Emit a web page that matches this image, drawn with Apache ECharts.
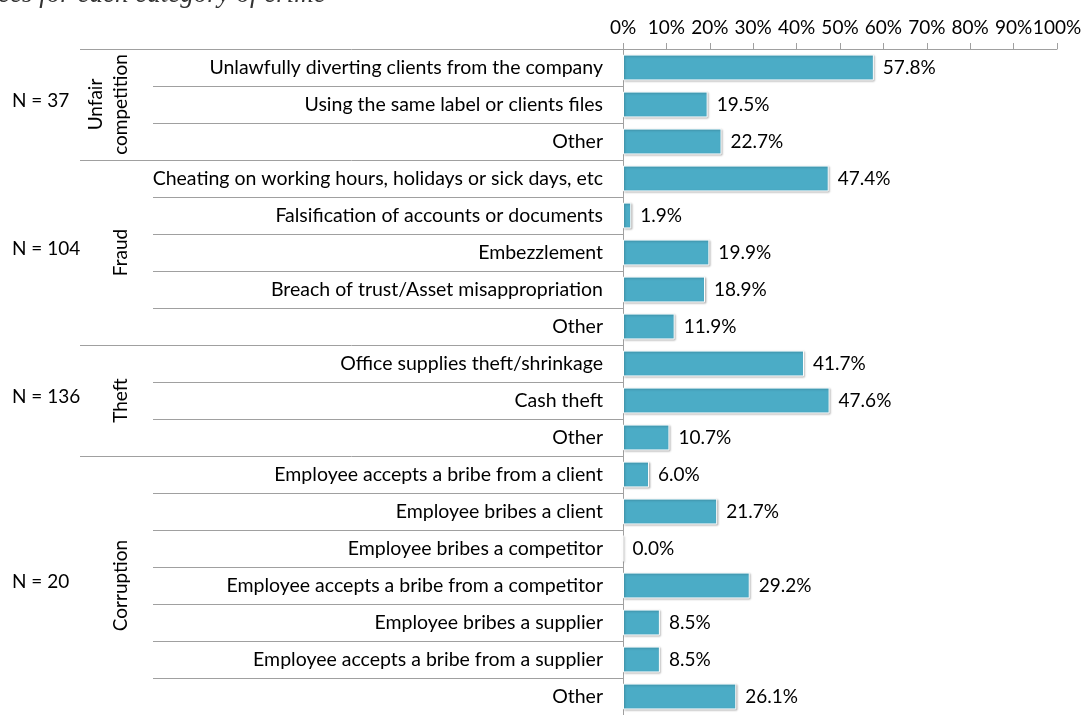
<!DOCTYPE html>
<html>
<head>
<meta charset="utf-8">
<script src="https://cdn.jsdelivr.net/npm/echarts@6/dist/echarts.min.js"></script>
<style>
  html, body { margin: 0; padding: 0; background: #fff; }
  #chart { width: 1088px; height: 715px; }
</style>
</head>
<body>
<div id="chart"></div>
<script>
// Sub-categories of crime, top to bottom
const categories = [
  'Unlawfully diverting clients from the company',
  'Using the same label or clients files',
  'Other',
  'Cheating on working hours, holidays or sick days, etc',
  'Falsification of accounts or documents',
  'Embezzlement',
  'Breach of trust/Asset misappropriation',
  'Other',
  'Office supplies theft/shrinkage',
  'Cash theft',
  'Other',
  'Employee accepts a bribe from a client',
  'Employee bribes a client',
  'Employee bribes a competitor',
  'Employee accepts a bribe from a competitor',
  'Employee bribes a supplier',
  'Employee accepts a bribe from a supplier',
  'Other'
];

// Share of cases (%)
const values = [57.8, 19.5, 22.7, 47.4, 1.9, 19.9, 18.9, 11.9, 41.7, 47.6, 10.7, 6.0, 21.7, 0.0, 29.2, 8.5, 8.5, 26.1];

// Crime groups: label, sample size, first row, number of rows
const groupNames = ['Unfair\ncompetition', 'Fraud', 'Theft', 'Corruption'];
const groupSizes = ['N = 37', 'N = 104', 'N = 136', 'N = 20'];
const groupStarts = [0, 3, 8, 11];
const groupCounts = [3, 5, 3, 7];

const xTicks = [0, 10, 20, 30, 40, 50, 60, 70, 80, 90, 100];

const FONT = 'Lato';
const FS = 19;
const LINE = '#a0a0a0';

const chart = echarts.init(document.getElementById('chart'), null, { renderer: 'canvas' });

const groupStartSet = new Set(groupStarts.concat([categories.length]));

chart.setOption({
  animation: false,
  backgroundColor: '#fff',
  grid: { left: 623, right: 31, top: 49, bottom: -3, containLabel: false },
  xAxis: {
    type: 'value',
    position: 'top',
    min: xTicks[0],
    max: xTicks[xTicks.length - 1],
    interval: xTicks[1] - xTicks[0],
    axisLine: { show: true, lineStyle: { color: LINE } },
    axisTick: { show: true, length: 6, lineStyle: { color: LINE } },
    splitLine: { show: false },
    axisLabel: {
      color: '#000', fontFamily: FONT, fontSize: FS, margin: 12,
      formatter: v => v + '%'
    }
  },
  yAxis: [
    {
      type: 'category',
      inverse: true,
      data: categories,
      axisLine: { show: true, lineStyle: { color: LINE } },
      axisTick: {
        show: true, length: 470, lineStyle: { color: LINE },
        interval: i => !groupStartSet.has(i)
      },
      axisLabel: { color: '#000', fontFamily: FONT, fontSize: 19.5, margin: 20 },
      splitLine: { show: false }
    },
    {
      type: 'category',
      inverse: true,
      position: 'left',
      offset: 0,
      data: categories,
      axisLine: { show: false },
      axisTick: {
        show: true, length: 543, lineStyle: { color: LINE },
        interval: i => groupStartSet.has(i)
      },
      axisLabel: { show: false },
      splitLine: { show: false }
    }
  ],
  series: [{
    type: 'bar',
    data: values,
    barCategoryGap: '30%',
    itemStyle: {
      color: '#4BACC6',
      borderColor: '#ffffff',
      borderWidth: 1,
      shadowColor: 'rgba(0,0,0,0.25)',
      shadowBlur: 2,
      shadowOffsetX: 1,
      shadowOffsetY: 1
    },
    label: {
      show: true,
      position: 'right',
      distance: 9,
      color: '#000',
      fontFamily: FONT,
      fontSize: FS,
      formatter: p => p.value.toFixed(1) + '%'
    }
  }]
});

// Group names (rotated) and sample sizes, centred on each group's rows
const texts = [];
groupNames.forEach((name, g) => {
  const yTop = chart.convertToPixel({ yAxisIndex: 0 }, groupStarts[g]);
  const yBot = chart.convertToPixel({ yAxisIndex: 0 }, groupStarts[g] + groupCounts[g] - 1);
  const yMid = (yTop + yBot) / 2;
  texts.push({
    type: 'text',
    x: 133, y: yMid,
    rotation: Math.PI / 2,
    style: {
      text: name, fill: '#000', font: FS + 'px "' + FONT + '"',
      align: 'center', verticalAlign: 'bottom', lineHeight: 25
    }
  });
  texts.push({
    type: 'text',
    x: 12, y: yMid - 4,
    style: {
      text: groupSizes[g], fill: '#000', font: FS + 'px "' + FONT + '"',
      align: 'left', verticalAlign: 'middle'
    }
  });
});

// Chart heading, running off the top edge
texts.push({
  type: 'text',
  x: -2, y: -19,
  style: {
    text: 'ces for each category of crime',
    fill: '#333', font: 'italic 27px "Liberation Serif"',
    align: 'left', verticalAlign: 'top'
  }
});

chart.setOption({ graphic: texts });
</script>
</body>
</html>
